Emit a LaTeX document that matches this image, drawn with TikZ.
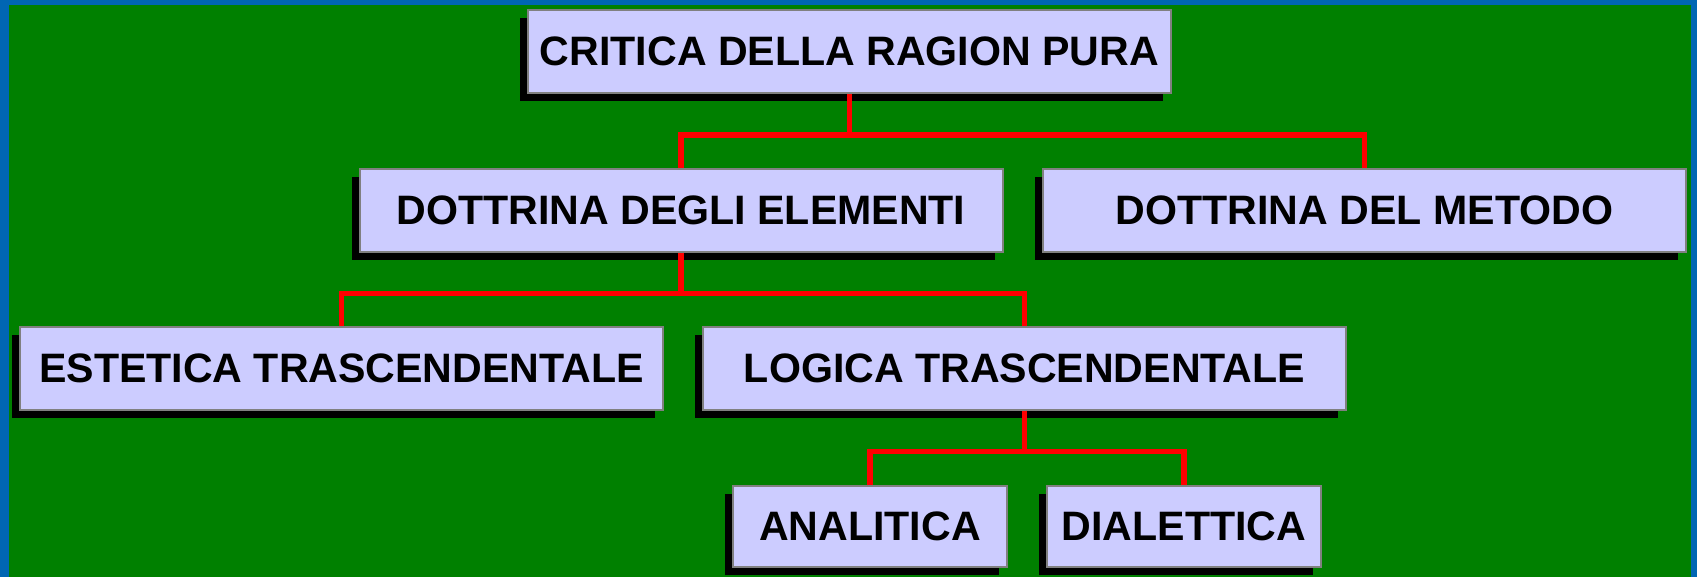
\documentclass[tikz,border=0pt]{standalone}
\usepackage{fontspec}
\setmainfont{Liberation Sans}
\usetikzlibrary{positioning,shadows}

\definecolor{sfondo}{HTML}{008000}
\definecolor{cornice}{HTML}{0066B3}
\definecolor{riempi}{HTML}{CCCCFF}

\tikzset{
  voce/.style={draw=gray, line width=0.02cm, fill=riempi,
    minimum width=6.43cm, minimum height=0.83cm, inner sep=0pt,
    font=\fontsize{11.7}{14}\selectfont\bfseries,
    drop shadow={shadow xshift=-0.08cm, shadow yshift=-0.08cm, opacity=1, fill=black}},
  vocebreve/.style={voce, minimum width=2.74cm, minimum height=0.81cm},
  ramo/.style={draw=red, line width=0.055cm}
}

\begin{document}
\begin{tikzpicture}
\def\ya{-0.515};
\def\yb{-2.10};
\def\yc{-3.68};
\def\yd{-5.265};
\def\h{0.41};

% sfondo
\useasboundingbox (0,0) rectangle (16.97,-5.77);
\fill[cornice] (0,0) rectangle (16.97,-5.77);
\fill[sfondo] (0.09,-0.05) rectangle (16.91,-5.77);

\node[voce](crit) at (8.495, \ya) {CRITICA DELLA RAGION PURA};
\node[voce](elem) at (6.81, \yb) {DOTTRINA DEGLI ELEMENTI};
\node[voce](metodo) at (13.645, \yb) {DOTTRINA DEL METODO};
\node[voce](estetica) at (3.415, \yc) {ESTETICA TRASCENDENTALE};
\node[voce](logica) at (10.245, \yc) {LOGICA TRASCENDENTALE};
\node[vocebreve](analitica) at (8.70, \yd) {ANALITICA};
\node[vocebreve](dialettica) at (11.84, \yd) {DIALETTICA};

% rami
\draw[ramo] (crit.south) -- ++(0,-\h) coordinate (r1);
\draw[ramo] (elem.north) |- (r1) -| (metodo.north);
\draw[ramo] (elem.south) -- ++(0,-\h) coordinate (r2);
\draw[ramo] (estetica.north) |- (r2) -| (logica.north);
\draw[ramo] (logica.south) -- ++(0,-\h) coordinate (r3);
\draw[ramo] (analitica.north) |- (r3) -| (dialettica.north);
\end{tikzpicture}
\end{document}
